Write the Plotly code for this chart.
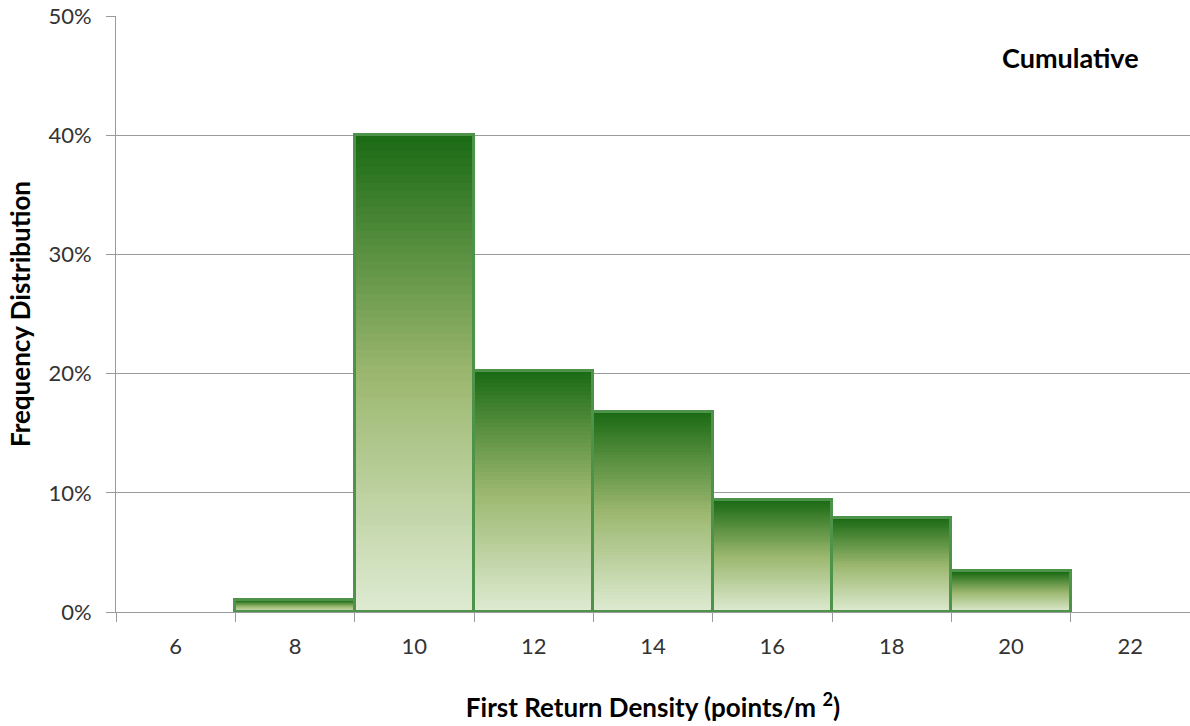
import plotly.graph_objects as go

# Frequency distribution of first-return point density
categories = ["6", "8", "10", "12", "14", "16", "18", "20", "22"]
frequency = [None, 1.0, 40.0, 20.2, 16.8, 9.4, 7.9, 3.4, None]  # percent

# vertical gradient stops (top -> bottom)
stops = [(0.0, (26, 106, 20)), (0.5, (155, 183, 110)), (1.0, (222, 235, 210))]


def grad(t):
    for (t0, c0), (t1, c1) in zip(stops[:-1], stops[1:]):
        if t <= t1:
            f = (t - t0) / (t1 - t0)
            return "rgb({},{},{})".format(*[round(a + (b - a) * f) for a, b in zip(c0, c1)])
    return "rgb({},{},{})".format(*stops[-1][1])


def part(v, frac):
    return None if v is None else v * frac


N = 60
fig = go.Figure()
for k in range(N):
    # segment k from bottom; gradient runs relative to each bar's own height
    t = 1 - (k + 0.5) / N
    fig.add_trace(go.Bar(
        x=categories,
        y=[part(v, 1 / N) for v in frequency],
        base=[part(v, k / N) for v in frequency],
        marker=dict(color=grad(t), line=dict(width=0)),
        width=1.0,
        hoverinfo="skip",
        showlegend=False,
    ))

# bar outlines
fig.add_trace(go.Bar(
    x=categories,
    y=frequency,
    marker=dict(color="rgba(0,0,0,0)", line=dict(color="#4d944a", width=3)),
    width=1.0,
    showlegend=False,
))

font_family = "Lato, 'Open Sans', sans-serif"

fig.update_layout(
    width=1190,
    height=726,
    margin=dict(l=116, r=0, t=16, b=114),
    paper_bgcolor="white",
    plot_bgcolor="white",
    barmode="overlay",
    bargap=0,
    font=dict(family=font_family, color="#333333", size=22),
    xaxis=dict(
        type="category",
        categoryorder="array",
        categoryarray=categories,
        tickson="boundaries",
        ticks="outside",
        ticklen=9,
        tickcolor="#9a9a9a",
        showline=True,
        linecolor="#9a9a9a",
        linewidth=1,
        showgrid=False,
        tickfont=dict(size=22, color="#333333"),
        ticklabelstandoff=15,
        title=dict(
            text="<b>First Return Density (points/m <sup>2</sup>)</b>",
            font=dict(size=26, color="#000000"),
            standoff=40,
        ),
        range=[-0.5, 8.5],
    ),
    yaxis=dict(
        range=[0, 50],
        tickvals=[0, 10, 20, 30, 40, 50],
        ticktext=["0%", "10%", "20%", "30%", "40%", "50%"],
        ticks="outside",
        ticklen=9,
        tickcolor="#9a9a9a",
        showline=True,
        linecolor="#9a9a9a",
        linewidth=1,
        showgrid=True,
        gridcolor="#9a9a9a",
        gridwidth=1,
        zeroline=False,
        tickfont=dict(size=22, color="#333333"),
        ticklabelstandoff=10,
        title=dict(
            text="<b>Frequency Distribution</b>",
            font=dict(size=26, color="#000000"),
            standoff=10,
        ),
    ),
)

# "Cumulative" label placed in plot-area fractions
plot_w = 1190 - 116
plot_h = 726 - 16 - 114
fig.add_annotation(
    text="<b>Cumulative</b>",
    x=(1070 - 116) / plot_w, y=(726 - 114 - 57) / plot_h,
    xref="paper", yref="paper",
    xanchor="center", yanchor="middle",
    showarrow=False,
    font=dict(size=27, color="#000000", family=font_family),
)

fig.write_html("out.html")
